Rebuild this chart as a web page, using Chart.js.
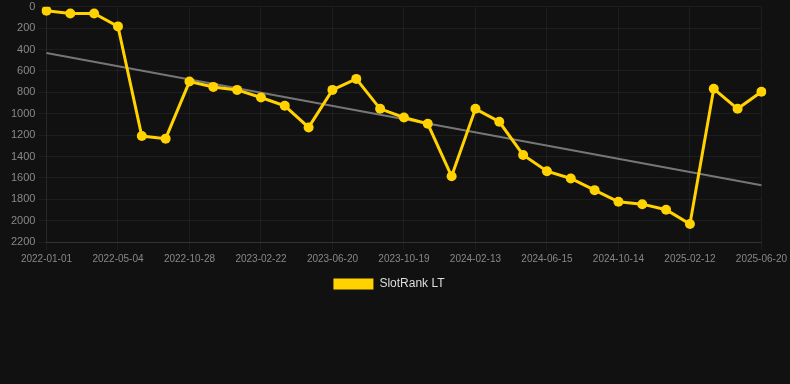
<!DOCTYPE html>
<html>
<head>
<meta charset="utf-8">
<script src="https://cdn.jsdelivr.net/npm/chart.js@4/dist/chart.umd.min.js"></script>
<style>
  html, body { margin: 0; padding: 0; background: #111111; }
  #wrap { position: relative; width: 790px; height: 300px; }
</style>
</head>
<body>
<div id="wrap"><canvas id="c"></canvas></div>
<script>
const labels = [
  "2022-01-01","2022-02-11","2022-03-24","2022-05-04","2022-06-30","2022-08-29",
  "2022-10-28","2022-12-03","2023-01-13","2023-02-22","2023-04-01","2023-05-11",
  "2023-06-20","2023-08-01","2023-09-09","2023-10-19","2023-11-27","2024-01-05",
  "2024-02-13","2024-03-25","2024-05-05","2024-06-15","2024-07-25","2024-09-03",
  "2024-10-14","2024-11-22","2025-01-02","2025-02-12","2025-03-20","2025-05-01",
  "2025-06-20"
];
const rankValues = [
  37, 62, 62, 183, 1209, 1233,
  699, 749, 777, 848, 926, 1128,
  777, 674, 954, 1035, 1094, 1585,
  954, 1075, 1386, 1538, 1606, 1715,
  1824, 1846, 1898, 2032, 767, 954,
  795
];
const trendStart = 432;
const trendEnd = 1669;
const seriesName = "SlotRank LT";
const yTicks = { min: 0, max: 2200, step: 200 };

const trendValues = labels.map((_, i) => i === 0 ? trendStart : (i === labels.length - 1 ? trendEnd : null));

new Chart(document.getElementById('c'), {
  type: 'line',
  data: {
    labels: labels,
    datasets: [
      {
        label: seriesName,
        data: rankValues,
        borderColor: '#ffd200',
        backgroundColor: '#ffd200',
        borderWidth: 3,
        pointRadius: 5,
        pointHoverRadius: 5,
        pointBackgroundColor: '#ffd200',
        pointBorderColor: '#ffd200',
        pointBorderWidth: 0,
        tension: 0,
        order: 1
      },
      {
        label: 'trend',
        data: trendValues,
        borderColor: 'rgba(130,130,130,0.9)',
        borderWidth: 2,
        pointRadius: 0,
        spanGaps: true,
        fill: false,
        order: 2
      }
    ]
  },
  options: {
    responsive: true,
    maintainAspectRatio: false,
    animation: false,
    layout: { padding: { left: 8, right: 20, top: 0, bottom: 0 } },
    plugins: {
      tooltip: { enabled: false },
      legend: {
        position: 'bottom',
        labels: {
          color: '#dddddd',
          font: { family: 'Liberation Sans, Arial, sans-serif', size: 12 },
          boxWidth: 40,
          boxHeight: 11,
          generateLabels: (chart) => {
            const items = Chart.defaults.plugins.legend.labels.generateLabels(chart);
            return items
              .filter((it) => it.text !== 'trend')
              .map((it) => Object.assign(it, { lineWidth: 0, strokeStyle: 'rgba(0,0,0,0)' }));
          }
        }
      }
    },
    scales: {
      x: {
        grid: { color: 'rgba(255,255,255,0.05)', tickColor: 'rgba(255,255,255,0.05)' },
        border: { color: 'rgba(255,255,255,0.1)' },
        ticks: {
          color: '#888888',
          font: { family: 'Liberation Sans, Arial, sans-serif', size: 10 },
          maxRotation: 0,
          autoSkip: true,
          maxTicksLimit: 11
        }
      },
      y: {
        reverse: true,
        min: yTicks.min,
        max: yTicks.max,
        grid: { color: 'rgba(255,255,255,0.05)', tickColor: 'rgba(255,255,255,0.05)' },
        border: { color: 'rgba(255,255,255,0.05)' },
        ticks: {
          stepSize: yTicks.step,
          color: '#888888',
          font: { family: 'Liberation Sans, Arial, sans-serif', size: 11, lineHeight: 0.7 },
          callback: (v) => String(v)
        }
      }
    }
  }
});
</script>
</body>
</html>
